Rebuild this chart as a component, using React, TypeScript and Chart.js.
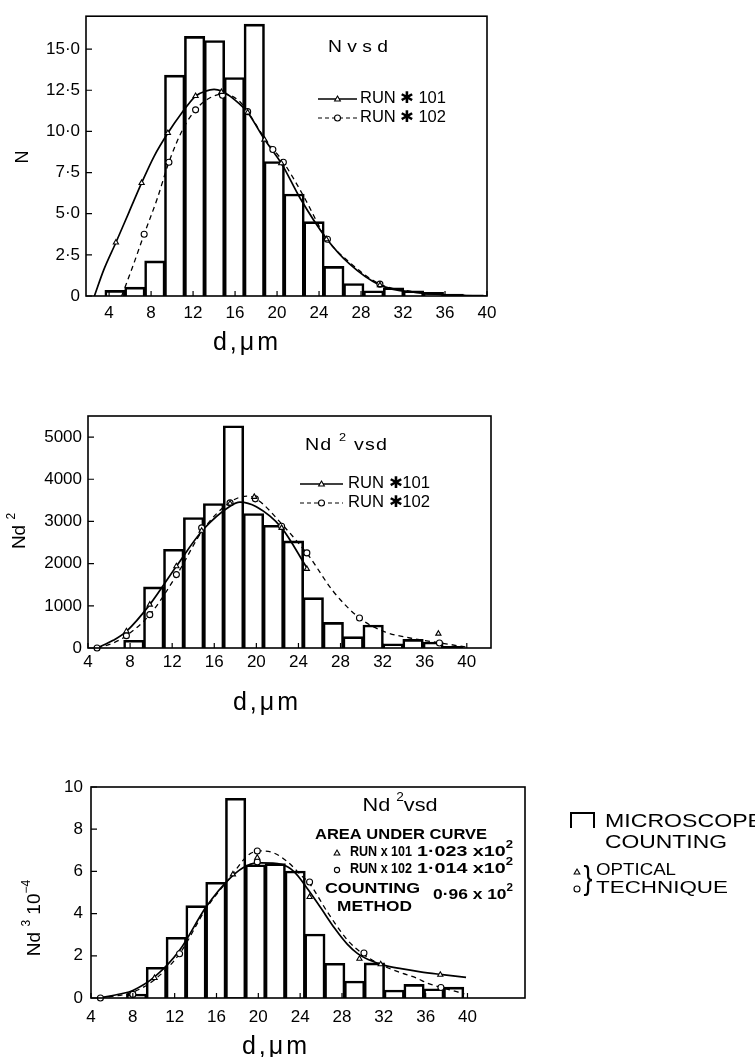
import React, { useEffect, useRef } from 'react';
import { Chart, registerables } from 'chart.js';

Chart.register(...registerables);

const FONT = '"Liberation Sans", Arial, sans-serif';

// ---------- data ----------
// histogram bin centres (bins of ~1.9 µm)
const BIN_CENTERS = [4.57, 6.46, 8.36, 10.25, 12.15, 14.04, 15.94, 17.83, 19.73, 21.62, 23.52, 25.41, 27.31, 29.2, 31.1, 32.99, 34.89, 36.78, 38.68];

// microscope counting histograms
const N_BARS = [0.32, 0.52, 2.11, 13.4, 15.75, 15.5, 13.25, 16.5, 8.15, 6.18, 4.5, 1.78, 0.74, 0.3, 0.48, 0.3, 0.2, 0.1, 0.05];
const ND2_BARS = [0, 0, 174, 1440, 2334, 3085, 3418, 5261, 3180, 2903, 2532, 1187, 600, 261, 537, 94, 197, 134, 30];
const ND3_BARS = [0, 0, 0.17, 1.44, 2.86, 4.36, 5.47, 9.45, 6.3, 6.35, 6.0, 3.02, 1.63, 0.79, 1.65, 0.36, 0.63, 0.42, 0.5];

// axis ticks
const X_TICKS = [4, 8, 12, 16, 20, 24, 28, 32, 36, 40];
const N_TICKS = [0, 2.5, 5, 7.5, 10, 12.5, 15];
const N_TICK_LABELS = ['0', '2·5', '5·0', '7·5', '10·0', '12·5', '15·0'];
const ND2_TICKS = [0, 1000, 2000, 3000, 4000, 5000];
const ND2_TICK_LABELS = ['0', '1000', '2000', '3000', '4000', '5000'];
const ND3_TICKS = [0, 2, 4, 6, 8, 10];
const ND3_TICK_LABELS = ['0', '2', '4', '6', '8', '10'];

// N vs d curves (optical technique)
const N_RUN101_D = [2.6, 3.5, 4.65, 5.9, 7.1, 8.3, 9.6, 10.9, 12.24, 13.2, 14.0, 14.7, 16.0, 17.2, 18.8, 20.4, 22.2, 24.7, 26.9, 29.8, 33.3, 36.4, 39.9];
const N_RUN101_V = [0, 1.6, 3.25, 5.1, 6.87, 8.5, 9.9, 11.1, 12.15, 12.45, 12.55, 12.45, 11.9, 11.15, 9.52, 8.07, 5.94, 3.5, 1.95, 0.66, 0.2, 0.06, 0];
const N_RUN102_D = [5.2, 6.2, 7.34, 8.6, 9.7, 11.0, 12.24, 13.5, 14.9, 16.3, 17.2, 18.8, 20.6, 22.5, 24.7, 26.9, 29.8, 33.3, 36.5, 39.9];
const N_RUN102_V = [0, 1.7, 3.75, 5.94, 8.13, 10.1, 11.31, 12.0, 12.27, 11.9, 11.2, 9.6, 8.13, 6.1, 3.5, 2.05, 0.72, 0.24, 0.07, 0];
const N_MARK101_D = [4.65, 7.1, 9.6, 12.24, 14.7, 17.2, 18.8, 20.4, 24.7, 29.8];
const N_MARK101_V = [3.25, 6.87, 9.9, 12.15, 12.4, 11.15, 9.5, 8.07, 3.45, 0.66];
const N_MARK102_D = [4.8, 7.34, 9.7, 12.24, 14.8, 17.2, 19.6, 20.6, 24.8, 29.8];
const N_MARK102_V = [-0.4, 3.75, 8.13, 11.31, 12.2, 11.2, 8.9, 8.13, 3.45, 0.72];

// Nd^2 vs d curves
const ND2_RUN101_D = [4.86, 6.4, 7.65, 9.87, 12.4, 14.95, 17.5, 18.44, 20.0, 22.4, 24.75];
const ND2_RUN101_V = [0, 182, 395, 1028, 1938, 2808, 3362, 3457, 3346, 2848, 1920];
const ND2_RUN102_D = [4.86, 6.4, 7.65, 9.87, 12.4, 14.95, 17.5, 19.1, 20.0, 22.6, 25.0, 27.3, 29.8, 32.1, 34.6, 37.5, 39.9];
const ND2_RUN102_V = [0, 120, 293, 791, 1717, 2808, 3457, 3600, 3536, 2888, 2176, 1345, 712, 394, 237, 119, 24];
const ND2_MARK101_D = [7.65, 9.87, 12.4, 14.8, 17.5, 19.8, 22.4, 24.8, 37.3];
const ND2_MARK101_V = [395, 1028, 1938, 2780, 3425, 3583, 2848, 1875, 340];
const ND2_MARK102_D = [4.86, 7.65, 9.87, 12.4, 14.8, 17.5, 19.9, 22.4, 24.8, 29.8, 37.4];
const ND2_MARK102_V = [0, 293, 791, 1740, 2848, 3441, 3536, 2888, 2255, 712, 119];

// Nd^3 x 10^-4 vs d curves
const ND3_RUN101_D = [4.83, 6.9, 8.0, 10.08, 12.47, 15.0, 17.4, 19.0, 20.27, 22.2, 23.46, 24.7, 26.0, 27.3, 28.5, 29.5, 30.5, 32.0, 33.65, 35.5, 37.4, 39.86];
const ND3_RUN101_V = [0, 0.2, 0.36, 1.0, 2.26, 4.31, 5.73, 6.29, 6.4, 6.33, 5.97, 5.18, 4.25, 3.3, 2.55, 2.1, 1.82, 1.56, 1.39, 1.24, 1.12, 0.98];
const ND3_RUN102_D = [4.83, 8.0, 10.08, 12.47, 15.0, 17.4, 19.0, 20.1, 21.5, 22.8, 24.1, 24.9, 26.6, 28.55, 30.1, 32.2, 33.6, 35.1, 36.2, 37.46, 39.7];
const ND3_RUN102_V = [0, 0.28, 0.87, 2.1, 4.23, 5.77, 6.76, 6.97, 6.87, 6.45, 5.81, 5.42, 4.08, 2.73, 2.05, 1.47, 1.2, 0.95, 0.7, 0.5, 0.2];
const ND3_MARK101_D = [10.08, 17.57, 19.9, 24.9, 29.67, 31.7, 37.4];
const ND3_MARK101_V = [0.95, 5.86, 6.65, 4.79, 1.86, 1.6, 1.1];
const ND3_MARK102_D = [4.9, 8.0, 12.47, 19.9, 19.9, 24.9, 30.1, 37.46];
const ND3_MARK102_V = [0, 0.17, 2.1, 6.97, 6.45, 5.5, 2.13, 0.5];

// ---------- helpers ----------
type Seg = [string, number?];
interface TxtOpt { size: number; align?: 'left' | 'center' | 'right'; bold?: boolean; width?: number; spacing?: number; rotate?: boolean }

function txt(ctx: any, segs: Seg[], x: number, y: number, o: TxtOpt) {
  const weight = o.bold ? 'bold' : 'normal';
  const fontFor = (sup: boolean) => `${weight} ${sup ? Math.round(o.size * 0.65) : o.size}px ${FONT}`;
  ctx.save();
  ctx.translate(x, y);
  if (o.rotate) ctx.rotate(-Math.PI / 2);
  ctx.letterSpacing = `${o.spacing ?? 0}px`;
  let w = 0;
  const widths = segs.map(([t, sup]) => { ctx.font = fontFor(!!sup); const m = ctx.measureText(t).width; w += m; return m; });
  const sx = o.width ? o.width / w : 1;
  const total = w * sx;
  const start = o.align === 'center' ? -total / 2 : o.align === 'right' ? -total : 0;
  ctx.translate(start, 0);
  ctx.scale(sx, 1);
  ctx.fillStyle = '#000';
  ctx.textBaseline = 'middle';
  ctx.textAlign = 'left';
  let cx = 0;
  segs.forEach(([t, sup], i) => {
    ctx.font = fontFor(!!sup);
    ctx.fillText(t, cx, sup ? -o.size * 0.42 : 0);
    cx += widths[i];
  });
  ctx.restore();
}

function mark(ctx: any, style: string, x: number, y: number, r = 3) {
  ctx.save();
  ctx.lineWidth = 1.1;
  ctx.strokeStyle = '#000';
  ctx.fillStyle = '#fff';
  ctx.setLineDash([]);
  ctx.beginPath();
  if (style === 'triangle') {
    ctx.moveTo(x, y - r);
    ctx.lineTo(x + r * 0.95, y + r * 0.65);
    ctx.lineTo(x - r * 0.95, y + r * 0.65);
    ctx.closePath();
  } else {
    ctx.arc(x, y, r, 0, Math.PI * 2);
  }
  ctx.fill();
  ctx.stroke();
  ctx.restore();
}

function sample(ctx: any, x1: number, x2: number, y: number, dashed: boolean, style: string) {
  ctx.save();
  ctx.strokeStyle = '#000';
  ctx.lineWidth = dashed ? 1.2 : 1.5;
  ctx.setLineDash(dashed ? [4, 3] : []);
  ctx.beginPath();
  ctx.moveTo(x1, y);
  ctx.lineTo(x2, y);
  ctx.stroke();
  ctx.restore();
  mark(ctx, style, (x1 + x2) / 2, y, 3);
}

const zip = (xs: number[], ys: number[]) => xs.map((x, i) => ({ x, y: ys[i] }));

interface Curve { d: number[]; v: number[]; dashed: boolean }
interface Marks { d: number[]; v: number[]; style: string }
interface Spec {
  top: number; height: number; width: number;
  area: { left: number; right: number; top: number; bottom: number };
  xMin: number; xMax: number; yMax: number;
  yTicks: number[]; yLabels: string[];
  xTickPad: number; yTickPad: number;
  bars: number[];
  curves: Curve[];
  markers: Marks[];
  draw: (ctx: any) => void;
}

function buildConfig(s: Spec): any {
  const datasets: any[] = [
    {
      type: 'bar',
      data: zip(BIN_CENTERS, s.bars),
      backgroundColor: 'rgba(255,255,255,0)',
      borderColor: '#000',
      borderWidth: 1.3,
      borderSkipped: 'start',
      inflateAmount: 0.65,
      barPercentage: 1,
      categoryPercentage: 1,
      order: 10,
    },
    ...s.curves.map((c) => ({
      type: 'line',
      data: zip(c.d, c.v),
      borderColor: '#000',
      borderWidth: c.dashed ? 1.3 : 1.7,
      borderDash: c.dashed ? [5, 4] : [],
      pointRadius: 0,
      cubicInterpolationMode: 'monotone',
      fill: false,
      order: 1,
    })),
    ...s.markers.map((m) => ({
      type: 'line',
      data: zip(m.d, m.v),
      showLine: false,
      pointStyle: m.style,
      pointRadius: 3,
      pointBackgroundColor: '#fff',
      pointBorderColor: '#000',
      pointBorderWidth: 1.1,
      clip: false,
      order: 0,
    })),
  ];
  const framePlugin = {
    id: 'frameAndNotes',
    afterDraw(chart: any) {
      const { ctx, chartArea: a } = chart;
      ctx.save();
      ctx.strokeStyle = '#000';
      ctx.lineWidth = 1.6;
      ctx.strokeRect(a.left, a.top, a.right - a.left, a.bottom - a.top);
      ctx.lineWidth = 1.2;
      ctx.beginPath();
      chart.scales.x.ticks.forEach((t: any) => {
        const px = chart.scales.x.getPixelForValue(t.value);
        ctx.moveTo(px, a.bottom);
        ctx.lineTo(px, a.bottom - 5);
      });
      chart.scales.y.ticks.forEach((t: any) => {
        const py = chart.scales.y.getPixelForValue(t.value);
        ctx.moveTo(a.left, py);
        ctx.lineTo(a.left + 6, py);
      });
      ctx.stroke();
      ctx.translate(0, -s.top);
      s.draw(ctx);
      ctx.restore();
    },
  };
  return {
    type: 'bar',
    data: { datasets },
    options: {
      responsive: false,
      animation: false,
      devicePixelRatio: 1,
      events: [],
      layout: { padding: { top: s.area.top - s.top, right: s.width - s.area.right, left: 0, bottom: 0 } },
      plugins: { legend: { display: false }, tooltip: { enabled: false } },
      scales: {
        x: {
          type: 'linear',
          min: s.xMin,
          max: s.xMax,
          offset: false,
          grid: { display: false, drawTicks: false },
          border: { display: false },
          afterBuildTicks: (sc: any) => { sc.ticks = X_TICKS.map((v) => ({ value: v })); },
          afterFit: (sc: any) => { sc.height = s.top + s.height - s.area.bottom; },
          ticks: {
            color: '#000', font: { family: FONT, size: 17 }, padding: s.xTickPad,
            maxRotation: 0, minRotation: 0, autoSkip: false,
            callback: (v: any) => String(v),
          },
        },
        y: {
          type: 'linear',
          min: 0,
          max: s.yMax,
          grid: { display: false, drawTicks: false },
          border: { display: false },
          afterBuildTicks: (sc: any) => { sc.ticks = s.yTicks.map((v) => ({ value: v })); },
          afterFit: (sc: any) => { sc.width = s.area.left; },
          ticks: {
            color: '#000', font: { family: FONT, size: 17 }, padding: s.yTickPad, autoSkip: false,
            callback: (_v: any, i: number) => s.yLabels[i],
          },
        },
      },
    },
    plugins: [framePlugin],
  };
}

// ---------- chart specs (positions in page pixels) ----------
const TOP: Spec = {
  top: 0, height: 370, width: 520,
  area: { left: 86, right: 487, top: 12, bottom: 296 },
  xMin: 1.8, xMax: 40, yMax: 17,
  yTicks: N_TICKS, yLabels: N_TICK_LABELS, xTickPad: 7, yTickPad: 6,
  bars: N_BARS,
  curves: [
    { d: N_RUN101_D, v: N_RUN101_V, dashed: false },
    { d: N_RUN102_D, v: N_RUN102_V, dashed: true },
  ],
  markers: [
    { d: N_MARK101_D, v: N_MARK101_V, style: 'triangle' },
    { d: N_MARK102_D, v: N_MARK102_V, style: 'circle' },
  ],
  draw: (ctx) => {
    txt(ctx, [['N v s d']], 328, 48, { size: 16, width: 60 });
    sample(ctx, 318, 357, 99, false, 'triangle');
    txt(ctx, [['RUN ✱ 101']], 360, 99, { size: 16, width: 86 });
    sample(ctx, 318, 357, 118, true, 'circle');
    txt(ctx, [['RUN ✱ 102']], 360, 118, { size: 16, width: 86 });
    txt(ctx, [['N']], 23, 157, { size: 18, rotate: true, align: 'center' });
    txt(ctx, [['d,μm']], 247, 343, { size: 25, align: 'center', spacing: 3 });
  },
};

const MID: Spec = {
  top: 380, height: 340, width: 520,
  area: { left: 88, right: 491, top: 416, bottom: 648 },
  xMin: 4, xMax: 42.3, yMax: 5500,
  yTicks: ND2_TICKS, yLabels: ND2_TICK_LABELS, xTickPad: 4, yTickPad: 6,
  bars: ND2_BARS,
  curves: [
    { d: ND2_RUN101_D, v: ND2_RUN101_V, dashed: false },
    { d: ND2_RUN102_D, v: ND2_RUN102_V, dashed: true },
  ],
  markers: [
    { d: ND2_MARK101_D, v: ND2_MARK101_V, style: 'triangle' },
    { d: ND2_MARK102_D, v: ND2_MARK102_V, style: 'circle' },
  ],
  draw: (ctx) => {
    txt(ctx, [['Nd '], ['2', 1], [' vsd']], 305, 445, { size: 17, width: 83, spacing: 1 });
    sample(ctx, 300, 343, 484, false, 'triangle');
    txt(ctx, [['RUN ✱101']], 348, 484, { size: 16, width: 82 });
    sample(ctx, 300, 343, 503, true, 'circle');
    txt(ctx, [['RUN ✱102']], 348, 503, { size: 16, width: 82 });
    txt(ctx, [['Nd '], ['2', 1]], 20, 531, { size: 19, rotate: true, align: 'center' });
    txt(ctx, [['d,μm']], 267, 703, { size: 25, align: 'center', spacing: 3 });
  },
};

const BOT: Spec = {
  top: 760, height: 297, width: 755,
  area: { left: 91, right: 525, top: 787, bottom: 998 },
  xMin: 4, xMax: 45.5, yMax: 10,
  yTicks: ND3_TICKS, yLabels: ND3_TICK_LABELS, xTickPad: 9, yTickPad: 8,
  bars: ND3_BARS,
  curves: [
    { d: ND3_RUN101_D, v: ND3_RUN101_V, dashed: false },
    { d: ND3_RUN102_D, v: ND3_RUN102_V, dashed: true },
  ],
  markers: [
    { d: ND3_MARK101_D, v: ND3_MARK101_V, style: 'triangle' },
    { d: ND3_MARK102_D, v: ND3_MARK102_V, style: 'circle' },
  ],
  draw: (ctx) => {
    txt(ctx, [['Nd '], ['2', 1], ['vsd']], 400, 806, { size: 19, align: 'center', width: 75 });
    txt(ctx, [['AREA UNDER CURVE']], 315, 835, { size: 15, bold: true, width: 172 });
    mark(ctx, 'triangle', 337, 853, 3);
    txt(ctx, [['RUN x 101']], 350, 852, { size: 15, bold: true, width: 62 });
    txt(ctx, [['1·023 x10'], ['2', 1]], 417, 852, { size: 15, bold: true, width: 96 });
    mark(ctx, 'circle', 337, 870, 2.6);
    txt(ctx, [['RUN x 102']], 350, 869, { size: 15, bold: true, width: 62 });
    txt(ctx, [['1·014 x10'], ['2', 1]], 417, 869, { size: 15, bold: true, width: 96 });
    txt(ctx, [['COUNTING']], 325, 889, { size: 14, bold: true, width: 95 });
    txt(ctx, [['METHOD']], 337, 907, { size: 14, bold: true, width: 75 });
    txt(ctx, [['0·96 x 10'], ['2', 1]], 433, 895, { size: 15, bold: true, width: 80 });
    txt(ctx, [['Nd '], ['3', 1], [' 10'], ['−4', 1]], 35, 918, { size: 19, rotate: true, align: 'center' });
    txt(ctx, [['d,μm']], 276, 1047, { size: 25, align: 'center', spacing: 3 });
    // right-hand key
    ctx.save();
    ctx.strokeStyle = '#000';
    ctx.lineWidth = 2;
    ctx.beginPath();
    ctx.moveTo(571, 828);
    ctx.lineTo(571, 813);
    ctx.lineTo(594, 813);
    ctx.lineTo(594, 828);
    ctx.stroke();
    ctx.restore();
    txt(ctx, [['MICROSCOPE']], 605, 822, { size: 19, width: 158 });
    txt(ctx, [['COUNTING']], 605, 843, { size: 19, width: 122 });
    mark(ctx, 'triangle', 577, 872, 3);
    mark(ctx, 'circle', 577, 889, 3);
    txt(ctx, [['}']], 588, 880, { size: 34, align: 'center', width: 9 });
    txt(ctx, [['OPTICAL']], 596, 870, { size: 17, width: 80 });
    txt(ctx, [['TECHNIQUE']], 596, 888, { size: 17, width: 132 });
  },
};

function HistChart({ spec }: { spec: Spec }) {
  const ref = useRef<HTMLCanvasElement>(null);
  useEffect(() => {
    const chart = new Chart(ref.current as HTMLCanvasElement, buildConfig(spec));
    return () => chart.destroy();
  }, [spec]);
  return (
    <canvas
      ref={ref}
      width={spec.width}
      height={spec.height}
      style={{ position: 'absolute', left: 0, top: spec.top, width: spec.width, height: spec.height }}
    />
  );
}

export default function App() {
  return (
    <div style={{ position: 'absolute', left: 0, top: 0, width: 755, height: 1057, background: '#fff', overflow: 'hidden' }}>
      <HistChart spec={TOP} />
      <HistChart spec={MID} />
      <HistChart spec={BOT} />
    </div>
  );
}
